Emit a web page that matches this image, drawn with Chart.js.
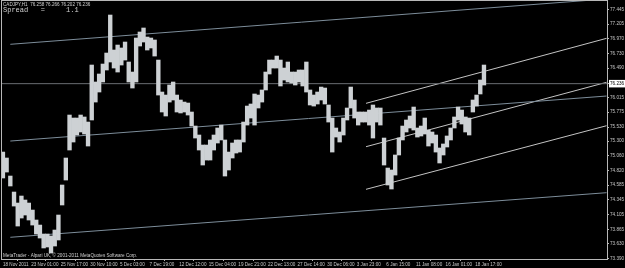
<!DOCTYPE html>
<html>
<head>
<meta charset="utf-8">
<script src="https://cdn.jsdelivr.net/npm/chart.js"></script>
<style>
  html, body { margin: 0; padding: 0; background: #000; }
  #wrap { width: 625px; height: 268px; }
</style>
</head>
<body>
<div id="wrap"><canvas id="myChart"></canvas></div>
<script>
// header / footer texts
const symbolLine = "CADJPY,H1  76.258 76.266 76.202 76.236";
const spreadLine = "Spread   =     1.1";
const copyrightLine = "MetaTrader - Alpari UK, \u00a9 2001-2011 MetaQuotes Software Corp.";

// each sample covers 8 H1 bars
const barsPerSample = 8;

// highs and lows of each sample
const highs = [
  75.124, 75.027, 74.734, 74.474, 74.295, 74.409, 74.344, 74.295, 74.181, 74.019,
  73.937, 73.791, 73.791, 73.759, 73.856, 74.100, 74.588, 75.027, 75.726, 75.677,
  75.677, 75.726, 75.694, 75.612, 76.539, 76.263, 76.393, 76.555, 76.734, 77.352,
  76.783, 76.864, 76.816, 76.913, 76.588, 76.425, 76.978, 77.076, 77.141, 76.994,
  76.978, 76.946, 76.620, 76.100, 76.051, 76.214, 76.263, 76.051, 75.970, 75.937,
  75.921, 75.775, 75.547, 75.401, 75.238, 75.238, 75.320, 75.401, 75.515, 75.563,
  75.320, 75.124, 75.271, 75.320, 75.320, 75.612, 75.872, 75.905, 76.068, 76.051,
  76.133, 76.425, 76.620, 76.620, 76.685, 76.620, 76.490, 76.588, 76.425, 76.425,
  76.458, 76.458, 76.588, 76.133, 76.051, 76.100, 76.181, 76.165, 75.889, 75.677,
  75.515, 75.450, 75.677, 75.840, 76.181, 75.970, 75.775, 75.775, 75.775, 75.807,
  75.889, 75.840, 75.840, 75.352, 74.864, 74.832, 75.076, 75.352, 75.547, 75.645,
  75.710, 75.856, 75.515, 75.547, 75.677, 75.482, 75.450, 75.401, 75.190, 75.255,
  75.385, 75.515, 75.694, 75.856, 75.807, 75.694, 75.677, 75.970, 76.051, 76.295,
  76.539
];
const lows = [
  74.702, 74.799, 74.572, 74.246, 73.921, 74.051, 74.100, 74.019, 73.937, 73.791,
  73.726, 73.564, 73.580, 73.482, 73.596, 73.694, 74.263, 74.669, 75.157, 75.287,
  75.401, 75.450, 75.417, 75.222, 75.645, 75.937, 76.100, 76.263, 76.458, 76.588,
  76.490, 76.425, 76.539, 76.620, 76.263, 76.165, 76.263, 76.848, 76.913, 76.783,
  76.816, 76.685, 76.051, 75.775, 75.710, 75.937, 75.970, 75.775, 75.759, 75.775,
  75.726, 75.547, 75.352, 75.157, 74.913, 74.994, 74.994, 75.157, 75.271, 75.320,
  74.734, 74.832, 75.027, 75.108, 75.124, 75.287, 75.563, 75.677, 75.563, 75.840,
  75.937, 76.133, 76.393, 76.490, 76.490, 76.198, 76.295, 76.263, 76.246, 76.214,
  76.263, 76.198, 76.100, 75.889, 75.872, 75.905, 75.970, 75.905, 75.612, 75.124,
  75.368, 75.287, 75.401, 75.645, 75.840, 75.677, 75.563, 75.612, 75.612, 75.563,
  75.352, 75.612, 75.563, 74.913, 74.588, 74.523, 74.750, 75.076, 75.320, 75.450,
  75.515, 75.482, 75.368, 75.385, 75.417, 75.222, 75.271, 75.124, 74.946, 75.076,
  75.206, 75.320, 75.515, 75.645, 75.580, 75.450, 75.401, 75.775, 75.872, 76.068,
  76.214
];

// time axis: bar index of each date label
const tickBars = [0, 61, 125, 189, 253, 317, 381, 445, 509, 573, 637, 701, 765, 829, 893, 957, 1021];
const tickLabels = [
  "18 Nov 2011", "23 Nov 01:00", "25 Nov 17:00", "30 Nov 10:00", "5 Dec 03:00",
  "7 Dec 19:00", "12 Dec 12:00", "15 Dec 04:00", "19 Dec 21:00", "22 Dec 13:00",
  "27 Dec 14:00", "30 Dec 06:00", "3 Jan 23:00", "6 Jan 15:00", "11 Jan 08:00",
  "16 Jan 01:00", "18 Jan 17:00"
];
const lastBarShown = 1306;

// price axis labels
const priceTicks = [77.445, 77.205, 76.970, 76.730, 76.490, 76.236, 76.015, 75.775, 75.530,
  75.300, 75.060, 74.820, 74.585, 74.345, 74.105, 73.865, 73.630, 73.390];
const currentPrice = 76.236;

// trend lines: [startBar, startPrice, endBar, endPrice]
const longLines = [
  [16, 76.876, 1306, 77.614],
  [16, 75.303, 1305, 76.035],
  [16, 73.738, 1305, 74.463]
];
const channelLines = [
  [785, 75.916, 1305, 76.973],
  [785, 75.211, 1305, 76.258],
  [785, 74.518, 1305, 75.552]
];

const candles = highs.map((h, i) => ({ x: i * barsPerSample, y: [lows[i], h] }));

function lineSet(l, color) {
  return {
    type: "line",
    data: [{ x: l[0], y: l[1] }, { x: l[2], y: l[3] }],
    borderColor: color,
    borderWidth: 1,
    pointRadius: 0,
    order: 2,
  };
}

const datasets = [
  {
    type: "bar",
    data: candles,
    backgroundColor: "#cdd1d4",
    barThickness: 3.7,
    order: 1,
  },
  lineSet([-2, currentPrice, lastBarShown, currentPrice], "#6a6e72"),
  ...longLines.map((l) => lineSet(l, "#7d8d9a")),
  ...channelLines.map((l) => lineSet(l, "#c4c4c4")),
];

const axisFont = { family: "Liberation Sans", size: 4.6 };

// texts and frame of the terminal window
const terminalText = {
  id: "terminalText",
  afterDraw(chart) {
    const { ctx, chartArea } = chart;
    ctx.save();
    ctx.strokeStyle = "#b8b8b8";
    ctx.lineWidth = 1;
    ctx.strokeRect(chartArea.left - 0.5, chartArea.top - 0.5, chartArea.width + 1, chartArea.height + 1);
    ctx.fillStyle = "#d0d0d0";
    ctx.textBaseline = "middle";
    ctx.font = '4.6px "Liberation Sans"';
    ctx.fillText(symbolLine, 3, 4.5);
    ctx.font = '7px "Liberation Mono"';
    ctx.fillText(spreadLine, 3, 10.5);
    ctx.font = '4.6px "Liberation Sans"';
    ctx.fillText(copyrightLine, 3, 255.5);
    ctx.restore();
  },
};

const config = {
  type: "bar",
  data: { datasets },
  options: {
    responsive: false,
    animation: false,
    layout: { padding: { left: 2, top: 1, right: 0, bottom: 0 } },
    plugins: { legend: { display: false }, tooltip: { enabled: false } },
    scales: {
      x: {
        type: "linear",
        min: -2,
        max: lastBarShown,
        offset: false,
        grid: { drawOnChartArea: false, color: "#b8b8b8", tickLength: 2 },
        border: { color: "#b8b8b8" },
        afterBuildTicks: (s) => { s.ticks = tickBars.map((v) => ({ value: v })); },
        afterFit: (s) => { s.height = 9; s.paddingLeft = 0; s.paddingRight = 0; },
        ticks: {
          autoSkip: false,
          maxRotation: 0,
          align: "start",
          padding: 1,
          color: "#c8c8c8",
          font: axisFont,
          callback: (v) => tickLabels[tickBars.indexOf(v)] || "",
        },
      },
      y: {
        position: "right",
        min: 73.385,
        max: 77.58,
        grid: { drawOnChartArea: false, color: "#b8b8b8", tickLength: 2 },
        border: { color: "#b8b8b8" },
        afterBuildTicks: (s) => { s.ticks = priceTicks.map((v) => ({ value: v })); },
        afterFit: (s) => { s.width = 18; s.paddingTop = 0; s.paddingBottom = 0; },
        ticks: {
          padding: 1,
          color: (c) => (c.tick && c.tick.value === currentPrice ? "#000" : "#c8c8c8"),
          showLabelBackdrop: (c) => !!(c.tick && c.tick.value === currentPrice),
          backdropColor: "#ffffff",
          backdropPadding: { x: 1, y: 1 },
          font: axisFont,
          callback: (v) => v.toFixed(3),
        },
      },
    },
  },
  plugins: [terminalText],
};

const canvas = document.getElementById("myChart");
canvas.width = 625;
canvas.height = 268;
canvas.style.backgroundColor = "black";
const myChart = new Chart(canvas, config);
</script>
</body>
</html>
